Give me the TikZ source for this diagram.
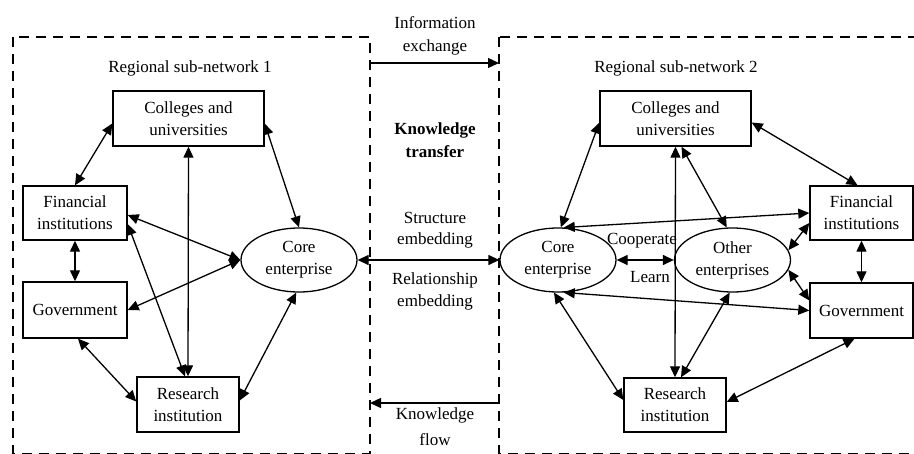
\documentclass[tikz,border=0pt]{standalone}
\usepackage{fontspec}
\setmainfont{Liberation Serif}
\usetikzlibrary{arrows.meta,shapes.geometric}
\begin{document}
\begin{tikzpicture}[x=1pt,y=-1pt,
  every node/.style={font=\fontsize{17}{22}\selectfont, align=center, inner sep=0pt},
  box/.style={draw, line width=1.4pt, inner sep=0pt},
  firm/.style={ellipse, draw, line width=1.3pt, minimum width=116pt, minimum height=64pt, inner sep=0pt},
  link/.style={line width=1.3pt, {Triangle[length=11pt,width=10pt]}-{Triangle[length=11pt,width=10pt]}},
  oneway/.style={line width=1.3pt, -{Triangle[length=11pt,width=10pt]}},
  region/.style={dash pattern=on 10pt off 7pt, line width=1.3pt}]
\useasboundingbox (0,0) rectangle (914,453);

% regional sub-network frames
\draw[region] (13,37) rectangle (370,453.2);
\draw[region] (499,37) rectangle (930,453.2);
\coordinate (ie1) at (370,63);
\coordinate (ie2) at (499,63);
\coordinate (kf1) at (370,403);
\coordinate (kf2) at (499,403);

% labels between the two sub-networks
\node at (435,23) {Information};
\node at (435,47) {exchange};
\node[font=\fontsize{17}{22}\selectfont\bfseries] at (435,130) {Knowledge};
\node[font=\fontsize{17}{22}\selectfont\bfseries] at (435,152) {transfer};
\node at (435,218) {Structure};
\node at (435,240) {embedding};
\node at (435,280) {Relationship};
\node at (435,302) {embedding};
\node at (435,415) {Knowledge};
\node at (435,440) {flow};

% sub-network 1
\node at (190,68) {Regional sub-network 1};
\node[box, minimum width=151pt, minimum height=55pt] (c1) at (188.5,118.5) {Colleges and\\universities};
\node[box, minimum width=104pt, minimum height=54pt] (f1) at (75,213) {Financial\\institutions};
\node[box, minimum width=104pt, minimum height=56pt] (g1) at (75,310) {Government};
\node[box, minimum width=102pt, minimum height=55pt] (r1) at (188,404.5) {Research\\institution};
\node[firm] (e1) at (299,260) {Core\\enterprise};

\draw[link] ([yshift=-5pt]c1.west) -- (f1.north);
\draw[link] ([yshift=-5pt]c1.east) -- (e1.north);
\draw[link] (c1.south) -- (r1.north);
\draw[link] (f1.south) -- (g1.north);
\draw[link] ([yshift=-2pt]f1.east) -- (e1.west);
\draw[link] ([yshift=-11pt]f1.east) -- ([xshift=-3pt]r1.north);
\draw[link] (g1.east) -- (e1.west);
\draw[link] ([xshift=3pt]g1.south) -- ([yshift=3pt]r1.west);
\draw[link] ([yshift=4pt]r1.east) -- (e1.-95);

% sub-network 2
\node at (676,68) {Regional sub-network 2};
\node[box, minimum width=151pt, minimum height=55pt] (c2) at (675.5,118.5) {Colleges and\\universities};
\node[box, minimum width=103pt, minimum height=54pt] (f2) at (861.5,213) {Financial\\institutions};
\node[box, minimum width=103pt, minimum height=55pt] (g2) at (861.5,310.5) {Government};
\node[box, minimum width=102pt, minimum height=54pt] (r2) at (675,405) {Research\\institution};
\node[firm] (e2) at (558,260) {Core\\enterprise};
\node[firm] (o2) at (732.5,260) {Other\\enterprises};
\node at (642,241) {Cooperate};
\node at (650,277) {Learn};

\draw[link] (e2.east) -- (o2.west);
\draw[link] ([yshift=-4pt]c2.west) -- (e2.85);
\draw[link] (c2.south) -- (r2.north);
\draw[link] ([xshift=6pt]c2.south) -- (o2.100);
\draw[link] ([yshift=-4pt]c2.east) -- ([xshift=-4pt]f2.north);
\draw[link] (e2.80) -- (f2.west);
\draw[link] (o2.10) -- ([yshift=-10pt]f2.west);
\draw[link] (o2.-10) -- ([yshift=10pt]g2.west);
\draw[link] (f2.south) -- (g2.north);
\draw[link] (e2.-80) -- (g2.west);
\draw[link] (e2.-97) -- ([yshift=5pt]r2.west);
\draw[link] (o2.-95) -- ([xshift=6pt]r2.north);
\draw[link] ([xshift=-7pt]g2.south) -- ([yshift=3pt]r2.east);

% flows between the sub-networks
\draw[oneway] (ie1) -- (ie2);
\draw[link] (e1.east) -- (e2.west);
\draw[oneway] (kf2) -- (kf1);
\end{tikzpicture}
\end{document}
